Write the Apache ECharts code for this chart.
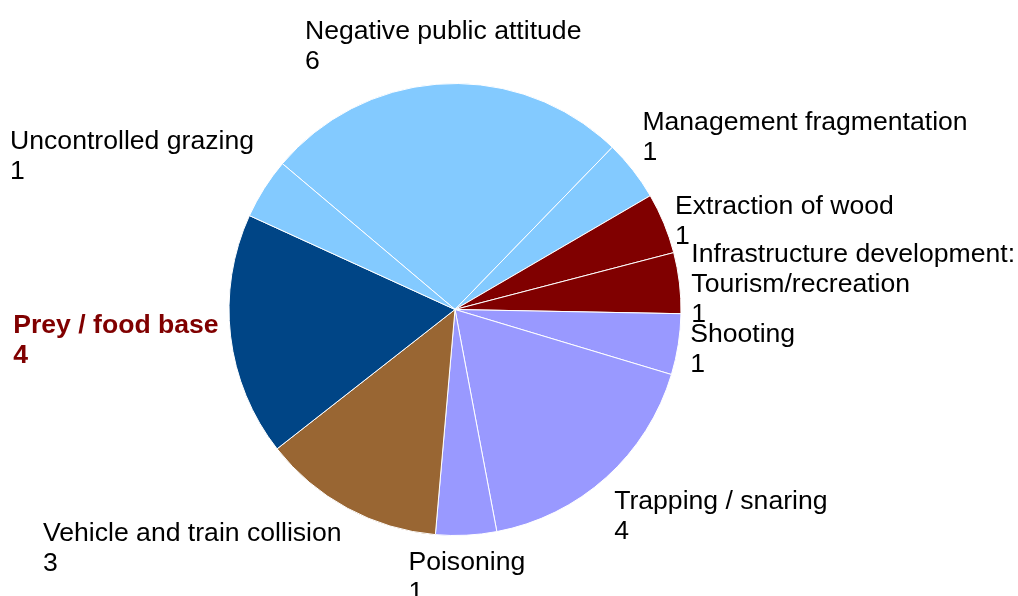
<!DOCTYPE html>
<html>
<head>
<meta charset="utf-8">
<script src="https://cdn.jsdelivr.net/npm/echarts@6/dist/echarts.min.js"></script>
<style>
  html, body { margin: 0; padding: 0; background: #ffffff; }
  #chart { width: 1018px; height: 596px; }
</style>
</head>
<body>
<div id="chart"></div>
<script>
const categories = [
  'Negative public attitude',
  'Management fragmentation',
  'Extraction of wood',
  'Infrastructure development:\nTourism/recreation',
  'Shooting',
  'Trapping / snaring',
  'Poisoning',
  'Vehicle and train collision',
  'Prey / food base',
  'Uncontrolled grazing'
];
const values = [6, 1, 1, 1, 1, 4, 1, 3, 4, 1];
const sliceColors = ['#83caff', '#83caff', '#800000', '#800000', '#9999ff', '#9999ff', '#9999ff', '#996633', '#004586', '#83caff'];
const highlighted = 'Prey / food base';

const CX = 455, CY = 309.5, R = 226, LABEL_GAP = 12, START = 139.8;
const total = values.reduce((a, b) => a + b, 0);
const cum = [];
values.reduce((acc, v, i) => { cum[i] = acc; return acc + v; }, 0);

const data = categories.map((name, i) => {
  const item = { name: name, value: values[i], itemStyle: { color: sliceColors[i] } };
  if (name === highlighted) {
    item.label = { color: '#800000', fontWeight: 'bold' };
  }
  return item;
});

const chart = echarts.init(document.getElementById('chart'), null, { renderer: 'canvas' });
chart.setOption({
  backgroundColor: '#ffffff',
  animation: false,
  series: [{
    type: 'pie',
    center: [CX, CY],
    radius: R,
    startAngle: START,
    clockwise: true,
    avoidLabelOverlap: false,
    itemStyle: { borderColor: '#ffffff', borderWidth: 1 },
    emphasis: { disabled: true },
    label: {
      show: true,
      position: 'outside',
      formatter: '{b}\n{c}',
      fontFamily: 'Liberation Sans, Arial, sans-serif',
      fontSize: 26.6,
      lineHeight: 30,
      color: '#000000',
      align: 'left'
    },
    labelLine: { show: false },
    labelLayout: function (p) {
      const i = p.dataIndex;
      let deg = START - (cum[i] + values[i] / 2) * 360 / total;
      deg = ((deg % 360) + 360) % 360;
      const rad = deg * Math.PI / 180;
      const r = R + LABEL_GAP;
      const ax = CX + r * Math.cos(rad);
      const ay = CY - r * Math.sin(rad);
      const w = p.labelRect.width, h = p.labelRect.height;
      const nearVertical = Math.abs(deg - 90) < 25 || Math.abs(deg - 270) < 25;
      const nearHorizontal = deg < 25 || deg > 335 || Math.abs(deg - 180) < 25;
      let x, y;
      if (nearVertical) x = ax - w / 2;
      else if (Math.cos(rad) > 0) x = ax;
      else x = ax - w;
      if (nearHorizontal) y = ay - h / 2 + 3;
      else if (Math.sin(rad) > 0) y = ay - h + 5;
      else y = ay;
      return { x: x, y: y, align: 'left', verticalAlign: 'top' };
    },
    data: data
  }]
});
</script>
</body>
</html>
